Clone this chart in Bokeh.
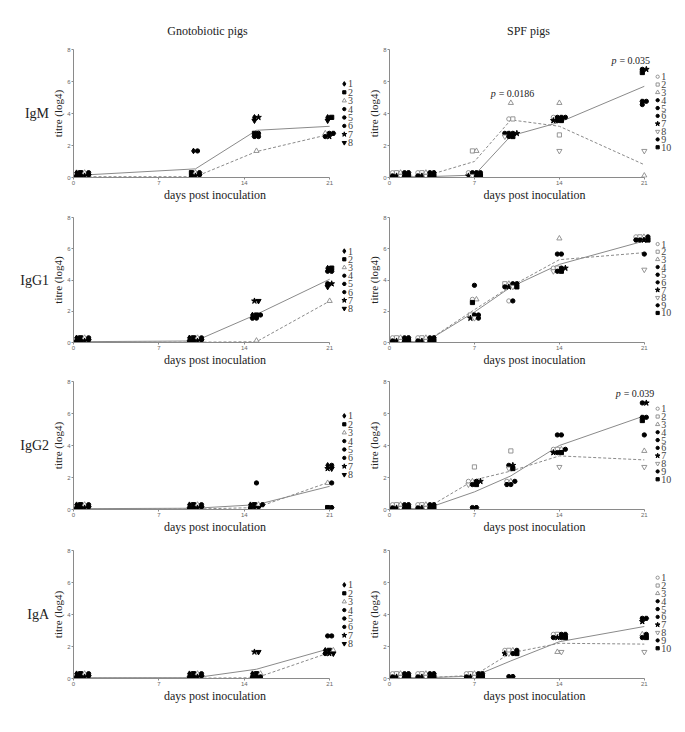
import math
from bokeh.plotting import figure
from bokeh.models import Range1d, FixedTicker, Label
from bokeh.core.properties import value
from bokeh.layouts import row, column
from bokeh.embed import file_html
from bokeh.resources import INLINE

NaN = float("nan")

# ---------------- data ----------------
GN_DAYS = [0, 10, 15, 21]
SPF_DAYS = [0, 3, 7, 10, 14, 21]
GN_PIGS = ["1", "2", "3", "4", "5", "6", "7", "8"]
SPF_PIGS = ["1", "2", "3", "4", "5", "6", "7", "8", "9", "10"]
X_TICKS = [0, 7, 14, 21]
Y_TICKS = [0, 2, 4, 6, 8]
ISOTYPES = ["IgM", "IgG1", "IgG2", "IgA"]
GROUPS = ["Gnotobiotic pigs", "SPF pigs"]

# titres (log4) per pig, one list per pig, one value per sampling day
GN_IGM = [[0, 1.66, 3.66, 3.66], [0, 0, 2.66, 3.66], [0, 0, 1.66, 2.66], [0, 1.66, 2.66, 2.66],
          [0, 0, 2.66, 2.66], [0, 0, 2.66, 2.66], [0, 0, 3.66, 2.66], [0, 0, 3.66, 3.66]]
GN_IGM_SOLID = [0.12, 0.54, 2.95, 3.2]
GN_IGM_DASHED = [0.05, 0.05, 1.62, 2.7]

GN_IGG1 = [[0, 0, 1.66, 4.66], [0, 0, 1.66, 4.66], [0, 0, 0, 2.66], [0, 0, 1.66, 4.66],
           [0, 0, 1.66, 4.66], [0, 0, 1.66, 3.66], [0, 0, 2.66, 3.66], [0, 0, 2.66, 3.66]]
GN_IGG1_SOLID = [0.05, 0.1, 1.8, 4.05]
GN_IGG1_DASHED = [0.02, 0.02, 0.05, 2.65]

GN_IGG2 = [[0, 0, 0, 2.66], [0, 0, 0, 0], [0, 0, 0, 1.66], [0, 0, 1.66, 1.66],
           [0, 0, 0, 0], [0, 0, 0, 2.66], [0, 0, 0, 2.66], [0, 0, 0, 2.66]]
GN_IGG2_SOLID = [0.05, 0.08, 0.3, 1.45]
GN_IGG2_DASHED = [0.02, 0.03, 0.12, 1.72]

GN_IGA = [[0, 0, 0, 1.66], [0, 0, 0, 1.66], [0, 0, 0, 1.66], [0, 0, 0, 2.66],
          [0, 0, 0, 1.66], [0, 0, 0, 2.66], [0, 0, 1.66, 1.66], [0, 0, 1.66, 1.66]]
GN_IGA_SOLID = [0.05, 0.05, 0.58, 1.87]
GN_IGA_DASHED = [0.02, 0.02, 0.05, 1.62]

SPF_IGM = [[0, 0, 0, 3.66, 3.66, NaN], [0, 0, 1.66, 3.66, 2.66, NaN], [0, 0, 1.66, 4.66, 4.66, 0],
           [0, 0, 0, 2.66, 3.66, 6.66], [0, 0, 0, 2.66, 3.66, 4.66], [0, 0, 0, 2.66, 3.66, 4.66],
           [0, 0, 0, 2.66, 3.66, 6.66], [0, 0, 0, 2.66, 1.66, 1.66], [0, 0, 0, 2.66, 3.66, 4.66],
           [0, 0, 0, 2.66, 3.66, 6.66]]
SPF_IGM_SOLID = [0.05, 0.05, 0.15, 2.6, 3.45, 5.7]
SPF_IGM_DASHED = [0.05, 0.1, 1.0, 3.6, 3.2, 0.8]

SPF_IGG1 = [[0, 0, 2.66, 2.66, 4.66, 6.66], [0, 0, 1.66, 3.66, 4.66, 6.66], [0, 0, 2.66, 3.66, 6.66, 6.66],
            [0, 0, 3.66, 3.66, 5.66, 6.66], [0, 0, 1.66, 3.66, 5.66, 6.66], [0, 0, 1.66, 3.66, 4.66, 6.66],
            [0, 0, 1.66, 3.66, 4.66, 6.66], [0, 0, 1.66, 3.66, 4.66, 4.66], [0, 0, 1.66, 2.66, 4.66, 5.66],
            [0, 0, 2.66, 3.66, 4.66, 6.66]]
SPF_IGG1_SOLID = [0.05, 0.05, 1.95, 3.55, 5.0, 6.5]
SPF_IGG1_DASHED = [0.05, 0.05, 2.1, 3.6, 5.3, 5.75]

SPF_IGG2 = [[0, 0, 1.66, 1.66, 3.66, NaN], [0, 0, 2.66, 3.66, 3.66, NaN], [0, 0, 1.66, 1.66, 3.66, 3.66],
            [0, 0, 0, 1.66, 4.66, 6.66], [0, 0, 0, 1.66, 4.66, 5.66], [0, 0, 1.66, 2.66, 3.66, 5.66],
            [0, 0, 1.66, 2.66, 3.66, 6.66], [0, 0, 1.66, 2.66, 2.66, 2.66], [0, 0, 1.66, 1.66, 3.66, 4.66],
            [0, 0, 1.66, 2.66, 3.66, 5.66]]
SPF_IGG2_SOLID = [0.05, 0.05, 1.1, 2.1, 4.0, 5.85]
SPF_IGG2_DASHED = [0.05, 0.05, 1.85, 2.4, 3.35, 3.1]

SPF_IGA = [[0, 0, 0, 1.66, 2.66, NaN], [0, 0, 0, 1.66, 2.66, NaN], [0, 0, 0, 1.66, 1.66, 2.66],
           [0, 0, 0, 0, 2.66, 3.66], [0, 0, 0, 0, 2.66, 3.66], [0, 0, 0, 1.66, 2.66, 2.66],
           [0, 0, 0, 1.66, 2.66, 3.66], [0, 0, 0, 1.66, 1.66, 1.66], [0, 0, 0, 1.66, 2.66, 2.66],
           [0, 0, 0, 1.66, 2.66, 2.66]]
SPF_IGA_SOLID = [0.05, 0.05, 0.15, 1.1, 2.3, 3.25]
SPF_IGA_DASHED = [0.05, 0.05, 0.2, 1.6, 2.2, 2.15]

P_VALUES = {"IgM": ["0.0186", "0.035"], "IgG2": ["0.039"]}

# ---------------- style ----------------
SERIF = "Liberation Serif"
SANS = "Liberation Sans"
GREY = "#8a8a8a"
INK = "#222222"
GN_MARKERS = ["diamond", "square", "triangle", "circle", "hex", "circle", "star", "inverted_triangle"]
GN_FILLED = [True, True, False, True, True, True, True, True]
SPF_MARKERS = ["circle", "square", "triangle", "circle", "hex", "circle", "star",
               "inverted_triangle", "circle", "square"]
SPF_FILLED = [False, False, False, True, True, True, True, False, True, True]
MARKER_SIZE = {"diamond": 5.6, "square": 4.2, "triangle": 5.2, "circle": 4.3, "hex": 4.7, "star": 6,
               "inverted_triangle": 5.2}

STEP = 0.33

# p-label anchor positions (x, y) per panel
P_POS = {"IgM": [(8.75, 5.25), (18.7, 7.3)], "IgG2": [(19.05, 7.25)]}

HEADER_H = 42
LABEL_W = 49
ROW_BORDERS = [(7, 28), (12, 24), (12, 29), (12, 28)]
# (border left, frame width, border right, x end of range, legend x, legend top y, legend step)
COL_GEOM = [(24, 283, 2, 23.2, 22.2, 5.85, 0.525),
            (31, 290, 0, 23.9, 22.1, 6.3, 0.49)]
TITLE_X = [207, 528]
TITLE_Y = 30
ROW_LABEL_X = 48.5


def dodge(days, values):
    n = len(values)
    xs = [[] for _ in range(n)]
    ys = [[] for _ in range(n)]
    for ti, t in enumerate(days):
        groups = {}
        for pi in range(n):
            v = values[pi][ti]
            if v is None or (isinstance(v, float) and math.isnan(v)):
                continue
            groups.setdefault(v, []).append(pi)
        for v, members in groups.items():
            m = len(members)
            rows = 1 if m <= 2 else 2
            cols = math.ceil(m / rows)
            left = t - (cols - 1) * STEP / 2
            left = max(left, 0.25)
            left = min(left, 21.3 - (cols - 1) * STEP)
            base = v if v > 0 else (0.2 if rows == 2 else 0.12)
            for k, pi in enumerate(members):
                r, c = divmod(k, cols)
                xs[pi].append(left + c * STEP)
                ys[pi].append(base + 0.1 - 0.2 * r if rows == 2 else base)
    return xs, ys


def blank(width, height, xr, yr, **kw):
    f = figure(width=width, height=height, output_backend="svg", toolbar_location=None,
               x_range=xr, y_range=yr, x_axis_type=None, y_axis_type=None,
               min_border_left=0, min_border_right=0, **kw)
    f.outline_line_color = None
    f.xgrid.visible = False
    f.ygrid.visible = False
    return f


def panel(ri, ci):
    iso = ISOTYPES[ri]
    top, bottom = ROW_BORDERS[ri]
    bl, fw, br, xend, lx, ly, lstep = COL_GEOM[ci]
    if ci == 0:
        days, pigs, markers, filled = GN_DAYS, GN_PIGS, GN_MARKERS, GN_FILLED
        values = [GN_IGM, GN_IGG1, GN_IGG2, GN_IGA][ri]
        solid = [GN_IGM_SOLID, GN_IGG1_SOLID, GN_IGG2_SOLID, GN_IGA_SOLID][ri]
        dashed = [GN_IGM_DASHED, GN_IGG1_DASHED, GN_IGG2_DASHED, GN_IGA_DASHED][ri]
    else:
        days, pigs, markers, filled = SPF_DAYS, SPF_PIGS, SPF_MARKERS, SPF_FILLED
        values = [SPF_IGM, SPF_IGG1, SPF_IGG2, SPF_IGA][ri]
        solid = [SPF_IGM_SOLID, SPF_IGG1_SOLID, SPF_IGG2_SOLID, SPF_IGA_SOLID][ri]
        dashed = [SPF_IGM_DASHED, SPF_IGG1_DASHED, SPF_IGG2_DASHED, SPF_IGA_DASHED][ri]
    fh = 128
    p = figure(width=bl + fw + br, height=top + fh + bottom, output_backend="svg",
               toolbar_location=None, x_range=Range1d(0, xend), y_range=Range1d(0, 8),
               min_border_left=bl, min_border_right=br, min_border_top=top, min_border_bottom=bottom)
    p.outline_line_color = None
    p.xgrid.visible = False
    p.ygrid.visible = False
    p.xaxis.ticker = FixedTicker(ticks=X_TICKS)
    p.yaxis.ticker = FixedTicker(ticks=Y_TICKS)
    p.xaxis.bounds = (0, 21)
    p.yaxis.bounds = (0, 8)
    for ax in (p.xaxis[0], p.yaxis[0]):
        ax.axis_line_color = GREY
        ax.major_tick_line_color = GREY
        ax.minor_tick_line_color = None
        ax.major_tick_out = 2
        ax.major_tick_in = 0
        ax.major_label_text_font = SANS
        ax.major_label_text_font_size = "6px"
        ax.major_label_text_color = "#666666"
        ax.major_label_standoff = 1
        ax.axis_label_text_font = SERIF
        ax.axis_label_text_font_style = "normal"
        ax.axis_label_text_color = INK
        ax.axis_label_standoff = 0
    p.xaxis.axis_label = "days post inoculation"
    p.xaxis.axis_label_text_font_size = "12px"
    p.yaxis.axis_label = "titre (log4)"
    p.yaxis.axis_label_text_font_size = "11px"

    p.line(days, solid, line_color=GREY, line_width=1.0)
    p.line(days, dashed, line_color=GREY, line_width=1.0, line_dash="3 2")

    xs, ys = dodge(days, values)
    leg_y = [ly - k * lstep for k in range(len(pigs))]
    for i, lab in enumerate(pigs):
        mk = markers[i]
        if filled[i]:
            kw = dict(fill_color="black", line_color="black")
        else:
            kw = dict(fill_color="white", line_color=GREY, line_width=0.9)
        p.scatter(xs[i], ys[i], marker=mk, size=MARKER_SIZE[mk], **kw)
        # legend entry
        p.scatter([lx], [leg_y[i]], marker=mk, size=MARKER_SIZE[mk] - 1.0, **kw)
    p.text([lx + 0.3] * len(pigs), leg_y, text=pigs, text_font=value(SERIF), text_font_size="10px",
           text_baseline="middle", text_align="left", text_color="#444444")

    if ci == 1 and iso in P_VALUES:
        for txt, (px, py) in zip(P_VALUES[iso], P_POS[iso]):
            p.add_layout(Label(x=px, y=py, text="p", text_align="right", text_baseline="middle",
                               text_font=SERIF, text_font_style="italic", text_font_size="10px",
                               text_color=INK))
            p.add_layout(Label(x=px, y=py, x_offset=3, text="= " + txt, text_align="left",
                               text_baseline="middle", text_font=SERIF, text_font_size="10px",
                               text_color=INK))
    return p


def row_label(ri):
    top, bottom = ROW_BORDERS[ri]
    f = blank(LABEL_W, top + 128 + bottom, Range1d(0, LABEL_W), Range1d(0, 8),
              min_border_top=top, min_border_bottom=bottom)
    f.text([ROW_LABEL_X], [4], text=[ISOTYPES[ri]], text_font=value(SERIF), text_font_size="14px",
           text_align="right", text_baseline="middle", text_color=INK)
    return f


panels = [[panel(ri, 0), panel(ri, 1)] for ri in range(4)]
total_w = LABEL_W + panels[0][0].width + panels[0][1].width
header = blank(total_w, HEADER_H, Range1d(0, total_w), Range1d(0, HEADER_H),
               min_border_top=0, min_border_bottom=0)
header.text(TITLE_X, [HEADER_H - TITLE_Y] * 2, text=GROUPS, text_font=value(SERIF),
            text_font_size="12px", text_align="center", text_baseline="middle", text_color=INK)

rows = [header] + [row(row_label(ri), panels[ri][0], panels[ri][1]) for ri in range(4)]
layout = column(*rows)
open("out.html", "w").write(file_html(layout, INLINE))
